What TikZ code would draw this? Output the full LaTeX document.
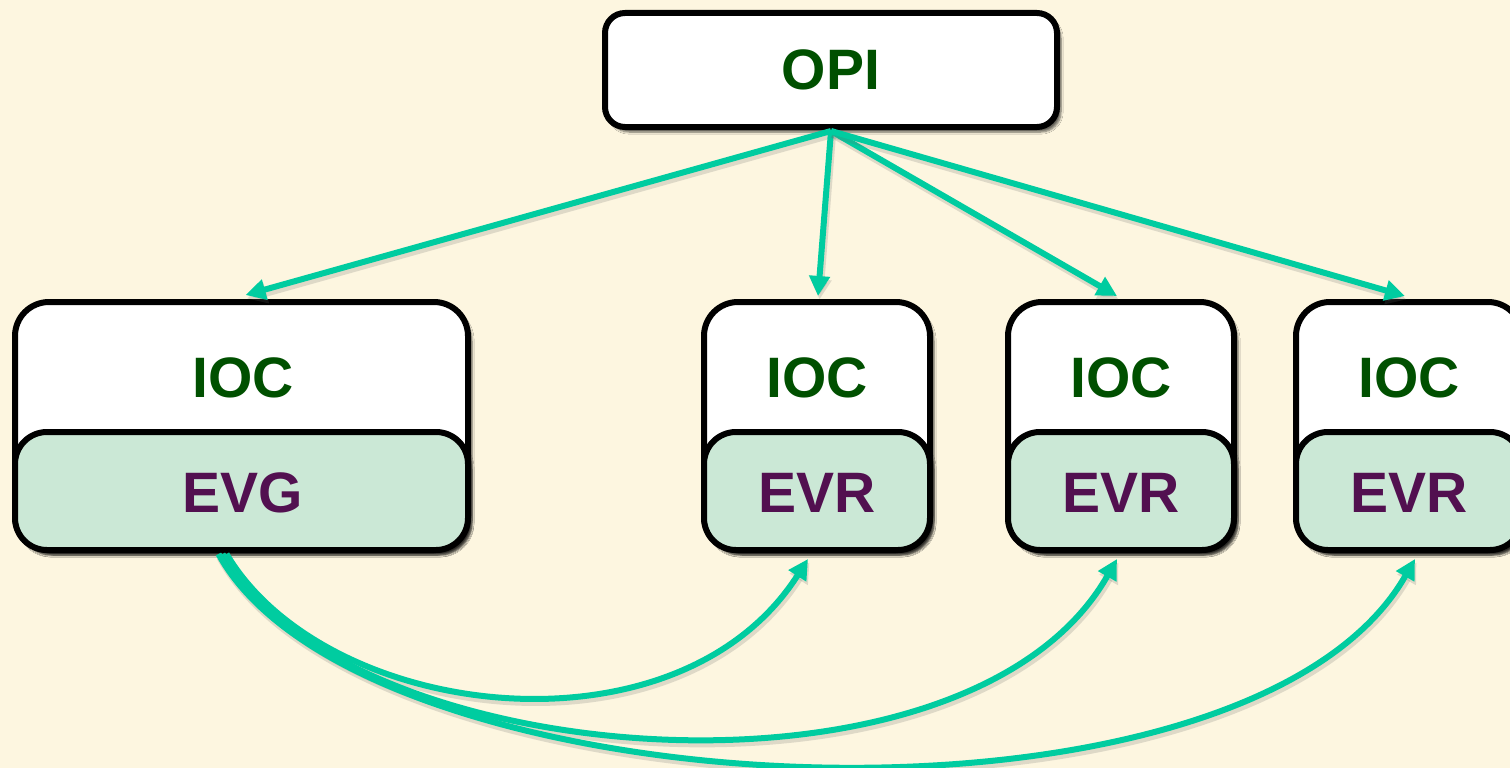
\documentclass[tikz,border=0pt]{standalone}
\usepackage{fontspec}
\setmainfont{Liberation Sans}
\usetikzlibrary{arrows.meta,shadows.blur}

\definecolor{paper}{RGB}{253,246,224}
\definecolor{wire}{RGB}{0,204,160}
\definecolor{iocgreen}{RGB}{0,80,0}
\definecolor{evpurple}{RGB}{82,16,80}
\definecolor{evfill}{RGB}{203,232,214}

\tikzset{
  box/.style={draw=black, line width=6pt, fill=white, inner sep=0pt,
    blur shadow={shadow xshift=4pt, shadow yshift=-5pt, shadow blur steps=6, shadow opacity=60}},
  iocbox/.style={box, rounded corners=34pt, minimum width=#1, minimum height=248pt},
  evbox/.style={box, fill=evfill, rounded corners=32pt, minimum width=#1, minimum height=118pt},
  opibox/.style={box, rounded corners=20pt, minimum width=452pt, minimum height=114pt},
  lbl/.style={font=\fontsize{57}{60}\selectfont\bfseries, inner sep=0pt},
  ioclbl/.style={lbl, text=iocgreen},
  evlbl/.style={lbl, text=evpurple},
  link/.style={draw=wire, line width=6pt, -{Triangle[length=20pt,width=20pt]},
    preaction={draw=black!60, line width=7pt, opacity=0.2, transform canvas={xshift=1.5pt,yshift=-3.5pt}}},
}

\begin{document}
\begin{tikzpicture}[x=1pt, y=-1pt]
  \path[use as bounding box, fill=paper] (0,0) rectangle (1510,768);

  % operator interface
  \node[opibox] (opi) at (831,70) {};
  \node[ioclbl] (opit) at (opi.center) {OPI};

  % IOC crates, each with its timing card in the lower half
  \node[iocbox=453pt] (ioc1) at (241.5,426) {};
  \node[evbox=453pt]  (evg)  at (241.5,491) {};
  \node[iocbox=226pt] (ioc2) at (817,426) {};
  \node[evbox=226pt]  (evr2) at (817,491) {};
  \node[iocbox=226pt] (ioc3) at (1121,426) {};
  \node[evbox=226pt]  (evr3) at (1121,491) {};
  \node[iocbox=226pt] (ioc4) at (1409,426) {};
  \node[evbox=226pt]  (evr4) at (1409,491) {};

  \node[ioclbl] (ioc1t) at (243,378) {IOC};
  \node[ioclbl] (ioc2t) at (817,378) {IOC};
  \node[ioclbl] (ioc3t) at (1121,378) {IOC};
  \node[ioclbl] (ioc4t) at (1409,378) {IOC};
  \node[evlbl] (evgt)  at (243,493) {EVG};
  \node[evlbl] (evr2t) at (817,493) {EVR};
  \node[evlbl] (evr3t) at (1121,493) {EVR};
  \node[evlbl] (evr4t) at (1409,493) {EVR};

  % OPI to every IOC
  \draw[link] ([yshift=-1pt]opi.south) -- ([xshift=4pt,yshift=4pt]ioc1.north);
  \draw[link] ([yshift=-1pt]opi.south) -- ([xshift=1pt,yshift=3pt]ioc2.north);
  \draw[link] ([yshift=-1pt]opi.south) -- ([xshift=-4pt,yshift=3pt]ioc3.north);
  \draw[link] ([yshift=-1pt]opi.south) -- ([xshift=-4pt,yshift=3pt]ioc4.north);

  % event links from the generator to the receivers
  \draw[link] ([xshift=-15pt,yshift=-1pt]evg.south)
    .. controls +(100,168) and +(-130,204) .. ([xshift=-9pt,yshift=-6pt]evr2.south);
  \draw[link] ([xshift=-19pt,yshift=-1pt]evg.south)
    .. controls +(120,218) and +(-150,264) .. ([xshift=-4pt,yshift=-6pt]evr3.south);
  \draw[link] ([xshift=-23pt,yshift=-1pt]evg.south)
    .. controls +(140,258) and +(-170,298) .. ([xshift=6pt,yshift=-6pt]evr4.south);
\end{tikzpicture}
\end{document}
